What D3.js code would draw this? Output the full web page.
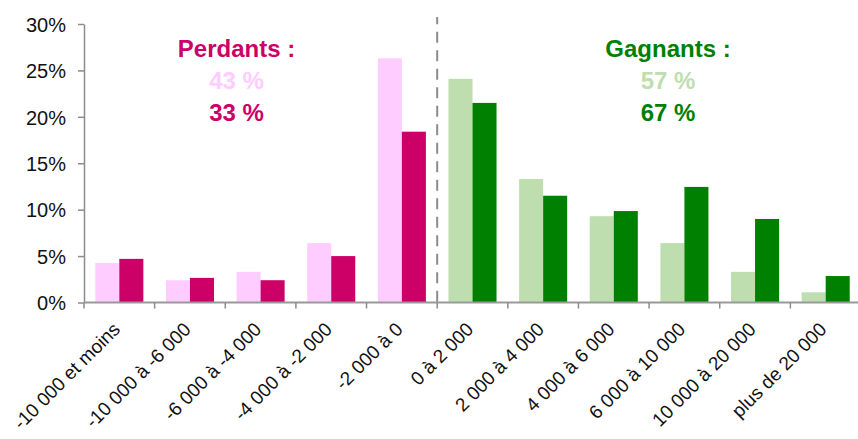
<!DOCTYPE html>
<html>
<head>
<meta charset="utf-8">
<script src="https://cdn.jsdelivr.net/npm/d3@7/dist/d3.min.js"></script>
<style>
  html, body { margin: 0; padding: 0; background: #fff; }
  svg { display: block; font-family: "Liberation Sans", Arial, sans-serif; }
</style>
</head>
<body>
<svg id="chart" width="858" height="439"></svg>
<script>
// ---- données ----
const categories = [
  "-10 000 et moins", "-10 000 à -6 000", "-6 000 à -4 000", "-4 000 à -2 000",
  "-2 000 à 0", "0 à 2 000", "2 000 à 4 000", "4 000 à 6 000",
  "6 000 à 10 000", "10 000 à 20 000", "plus de 20 000"
];
// série claire / série foncée (en %)
const serieClaire = [4.25, 2.4, 3.3, 6.4, 26.3, 24.1, 13.3, 9.3, 6.4, 3.3, 1.1];
const serieFoncee = [4.7, 2.65, 2.4, 5.0, 18.4, 21.5, 11.5, 9.85, 12.45, 9.0, 2.85];
const yTicks = [0, 5, 10, 15, 20, 25, 30];
const nbPerdants = 5; // les 5 premières classes sont des pertes

const annotPerdants = ["Perdants :", "43 %", "33 %"];
const annotGagnants = ["Gagnants :", "57 %", "67 %"];

// ---- couleurs ----
const ROSE_CLAIR = "#ffccff", ROSE = "#cc0066";
const VERT_CLAIR = "#bfdeb0", VERT = "#008000";
const GRIS = "#8c8c8c";

const svg = d3.select("#chart");

const x = d3.scaleBand().domain(categories).range([84, 861]);
const xSub = d3.scaleBand().domain(["claire", "foncee"])
  .range([0, x.bandwidth()]).paddingInner(0).paddingOuter(0.47);
const y = d3.scaleLinear().domain([0, 30]).range([302.5, 24]);

// ---- barres ----
const rows = categories.map((c, i) => ({
  cat: c, i, claire: serieClaire[i], foncee: serieFoncee[i]
}));

const groupes = svg.append("g").selectAll("g")
  .data(rows).enter().append("g")
  .attr("transform", d => `translate(${x(d.cat)},0)`);

groupes.selectAll("rect")
  .data(d => ["claire", "foncee"].map(k => ({ k, v: d[k], perte: d.i < nbPerdants })))
  .enter().append("rect")
  .attr("x", d => xSub(d.k))
  .attr("width", xSub.bandwidth())
  .attr("y", d => y(d.v))
  .attr("height", d => y(0) - y(d.v))
  .attr("fill", d => d.perte
    ? (d.k === "claire" ? ROSE_CLAIR : ROSE)
    : (d.k === "claire" ? VERT_CLAIR : VERT));

// ---- axe Y ----
const yAxis = svg.append("g")
  .attr("transform", "translate(84,0)")
  .call(d3.axisLeft(y).tickValues(yTicks).tickFormat(d => d + "%").tickSize(6).tickSizeOuter(0));
yAxis.select(".domain").attr("stroke", GRIS).attr("stroke-width", 1.5);
yAxis.selectAll(".tick line").attr("stroke", GRIS).attr("stroke-width", 1.5);
yAxis.selectAll(".tick text")
  .attr("x", -18).attr("dy", "0.36em")
  .attr("font-size", 20).attr("fill", "#111");

// ---- axe X ----
svg.append("line")
  .attr("x1", 84).attr("x2", 858)
  .attr("y1", y(0)).attr("y2", y(0))
  .attr("stroke", "#999").attr("stroke-width", 2);

// graduations aux limites des classes
svg.append("g").selectAll("line")
  .data(categories).enter().append("line")
  .attr("x1", d => x(d)).attr("x2", d => x(d))
  .attr("y1", y(0)).attr("y2", y(0) + 6)
  .attr("stroke", GRIS).attr("stroke-width", 1.5);

svg.append("g").selectAll("text")
  .data(categories).enter().append("text")
  .attr("transform", d => `translate(${x(d) + x.bandwidth() / 2 + 2},${y(0) + 28}) rotate(-45)`)
  .attr("text-anchor", "end")
  .attr("font-size", 19)
  .attr("fill", "#111")
  .text(d => d);

// ---- séparation perdants / gagnants ----
const xSep = x(categories[nbPerdants]);
svg.append("line")
  .attr("x1", xSep).attr("x2", xSep)
  .attr("y1", 17).attr("y2", y(0))
  .attr("stroke", GRIS).attr("stroke-width", 2)
  .attr("stroke-dasharray", "11,7.5")
  .attr("stroke-dashoffset", 3.8);

// ---- annotations ----
function annot(lignes, cx, couleurs) {
  const baselines = [57, 89, 121];
  lignes.forEach((t, i) => {
    svg.append("text")
      .attr("x", cx).attr("y", baselines[i])
      .attr("text-anchor", "middle")
      .attr("font-size", 24).attr("font-weight", "bold")
      .attr("fill", couleurs[i])
      .text(t);
  });
}
annot(annotPerdants, 236.5, [ROSE, ROSE_CLAIR, ROSE]);
annot(annotGagnants, 668, [VERT, VERT_CLAIR, VERT]);
</script>
</body>
</html>
